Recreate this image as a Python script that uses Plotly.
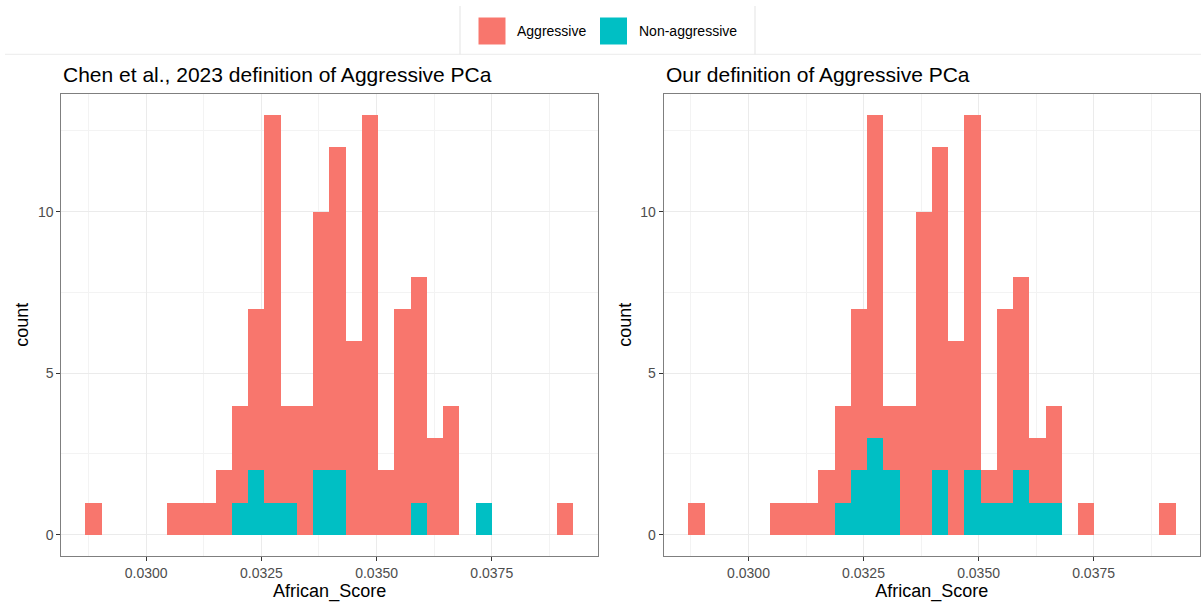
import numpy as np
import plotly.graph_objects as go

# Histogram bins (ggplot default: 30 bins spanning data min..max centres)
bin_center_min = 0.028863
bin_center_max = 0.039100
n_bins = 30

# Left panel: Chen et al., 2023 definition
chen_nonaggr = [0, 0, 0, 0, 0, 0, 0, 0, 0, 1, 2, 1, 1, 0, 2, 2, 0, 0, 0, 0, 1, 0, 0, 0, 1, 0, 0, 0, 0, 0]
chen_aggr    = [1, 0, 0, 0, 0, 1, 1, 1, 2, 3, 5, 12, 3, 4, 8, 10, 6, 13, 2, 7, 7, 3, 4, 0, 0, 0, 0, 0, 0, 1]

# Right panel: Our definition
our_nonaggr = [0, 0, 0, 0, 0, 0, 0, 0, 0, 1, 2, 3, 2, 0, 0, 2, 0, 2, 1, 1, 2, 1, 1, 0, 0, 0, 0, 0, 0, 0]
our_aggr    = [1, 0, 0, 0, 0, 1, 1, 1, 2, 3, 5, 10, 2, 4, 10, 10, 6, 11, 1, 6, 6, 2, 3, 0, 1, 0, 0, 0, 0, 1]

x_ticks = [0.0300, 0.0325, 0.0350, 0.0375]
x_tick_labels = ["0.0300", "0.0325", "0.0350", "0.0375"]
y_ticks = [0, 5, 10]
y_tick_labels = ["0", "5", "10"]

titles = ["Chen et al., 2023 definition of Aggressive PCa", "Our definition of Aggressive PCa"]
groups = ["Aggressive", "Non-aggressive"]
colors = {"Aggressive": "#F8766D", "Non-aggressive": "#00BFC4"}

binwidth = (bin_center_max - bin_center_min) / (n_bins - 1)
centers = bin_center_min + binwidth * np.arange(n_bins)

x_lo = bin_center_min - binwidth / 2
x_hi = bin_center_max + binwidth / 2
x_pad = 0.05 * (x_hi - x_lo)
x_range = [x_lo - x_pad, x_hi + x_pad]
ymax = max(max(a + b for a, b in zip(chen_aggr, chen_nonaggr)),
           max(a + b for a, b in zip(our_aggr, our_nonaggr)))
y_range = [-0.05 * ymax, ymax * 1.05]

W, H = 1201, 602
FONT = "Liberation Sans, Arial, Helvetica"
fig = go.Figure()

panels = [(chen_aggr, chen_nonaggr, "x", "y"), (our_aggr, our_nonaggr, "x2", "y2")]
for aggr, nonaggr, xa, ya in panels:
    fig.add_trace(go.Bar(x=centers, y=nonaggr, width=binwidth, name="Non-aggressive",
                         marker=dict(color=colors["Non-aggressive"], line=dict(width=0)),
                         xaxis=xa, yaxis=ya, showlegend=False))
    fig.add_trace(go.Bar(x=centers, y=aggr, width=binwidth, name="Aggressive",
                         marker=dict(color=colors["Aggressive"], line=dict(width=0)),
                         xaxis=xa, yaxis=ya, showlegend=False))

ydom = [1 - 555.7 / H, 1 - 93.7 / H]
xdoms = [[61.3 / W, 598 / W], [663.7 / W, 1199.7 / W]]

axis_common = dict(showline=True, linecolor="#7f7f7f", linewidth=1, mirror=True,
                   ticks="outside", ticklen=4, tickcolor="#333333", tickwidth=1,
                   showgrid=True, gridcolor="#EBEBEB", gridwidth=1,
                   zeroline=False,
                   tickfont=dict(family=FONT, size=14, color="#4D4D4D"))

layout_axes = {}
for i, (xd, t) in enumerate(zip(xdoms, titles)):
    sfx = "" if i == 0 else "2"
    layout_axes["xaxis" + sfx] = dict(axis_common, domain=xd, range=x_range,
                                      tickvals=x_ticks, ticktext=x_tick_labels,
                                      anchor="y" + sfx,
                                      minor=dict(showgrid=True, gridcolor="#F3F3F3", gridwidth=1,
                                                 dtick=0.00125, tick0=0.0300),
                                      title=dict(text="African_Score", standoff=6,
                                                 font=dict(family=FONT, size=18, color="#000000")))
    layout_axes["yaxis" + sfx] = dict(axis_common, domain=ydom, range=y_range,
                                      tickvals=y_ticks, ticktext=y_tick_labels,
                                      anchor="x" + sfx,
                                      minor=dict(showgrid=True, gridcolor="#F3F3F3", gridwidth=1,
                                                 dtick=2.5, tick0=0),
                                      title=dict(text="count", standoff=4,
                                                 font=dict(family=FONT, size=18, color="#000000")))

annotations = []
for xd, t in zip(xdoms, titles):
    annotations.append(dict(text=t, x=xd[0], y=1 - 74 / H, xref="paper", yref="paper",
                            xanchor="left", yanchor="middle", showarrow=False,
                            font=dict(family=FONT, size=21, color="#000000")))

# custom legend (keys sized like ggplot)
shapes = []
leg_items = [("Aggressive", 478.5, 515), ("Non-aggressive", 600, 637)]
for name, kx, tx in leg_items:
    shapes.append(dict(type="rect", xref="paper", yref="paper",
                       x0=kx / W, x1=(kx + 27) / W, y0=1 - 44.5 / H, y1=1 - 17.5 / H,
                       fillcolor=colors[name], line=dict(width=0)))
    annotations.append(dict(text=name, x=tx / W, y=1 - 31 / H, xref="paper", yref="paper",
                            xanchor="left", yanchor="middle", showarrow=False,
                            font=dict(family=FONT, size=14, color="#000000")))
# faint legend frame lines
shapes.append(dict(type="line", xref="paper", yref="paper", x0=5 / W, x1=1, y0=1 - 54.3 / H, y1=1 - 54.3 / H,
                   line=dict(color="#EBEBEB", width=1)))
for lx in [460, 755]:
    shapes.append(dict(type="line", xref="paper", yref="paper", x0=lx / W, x1=lx / W,
                       y0=1 - 54.3 / H, y1=1 - 6 / H, line=dict(color="#E3E3E3", width=1)))

fig.update_layout(width=W, height=H, margin=dict(l=0, r=0, t=0, b=0),
                  paper_bgcolor="white", plot_bgcolor="white",
                  barmode="stack", bargap=0,
                  annotations=annotations, shapes=shapes,
                  font=dict(family=FONT),
                  showlegend=False, **layout_axes)

fig.write_html("out.html")
